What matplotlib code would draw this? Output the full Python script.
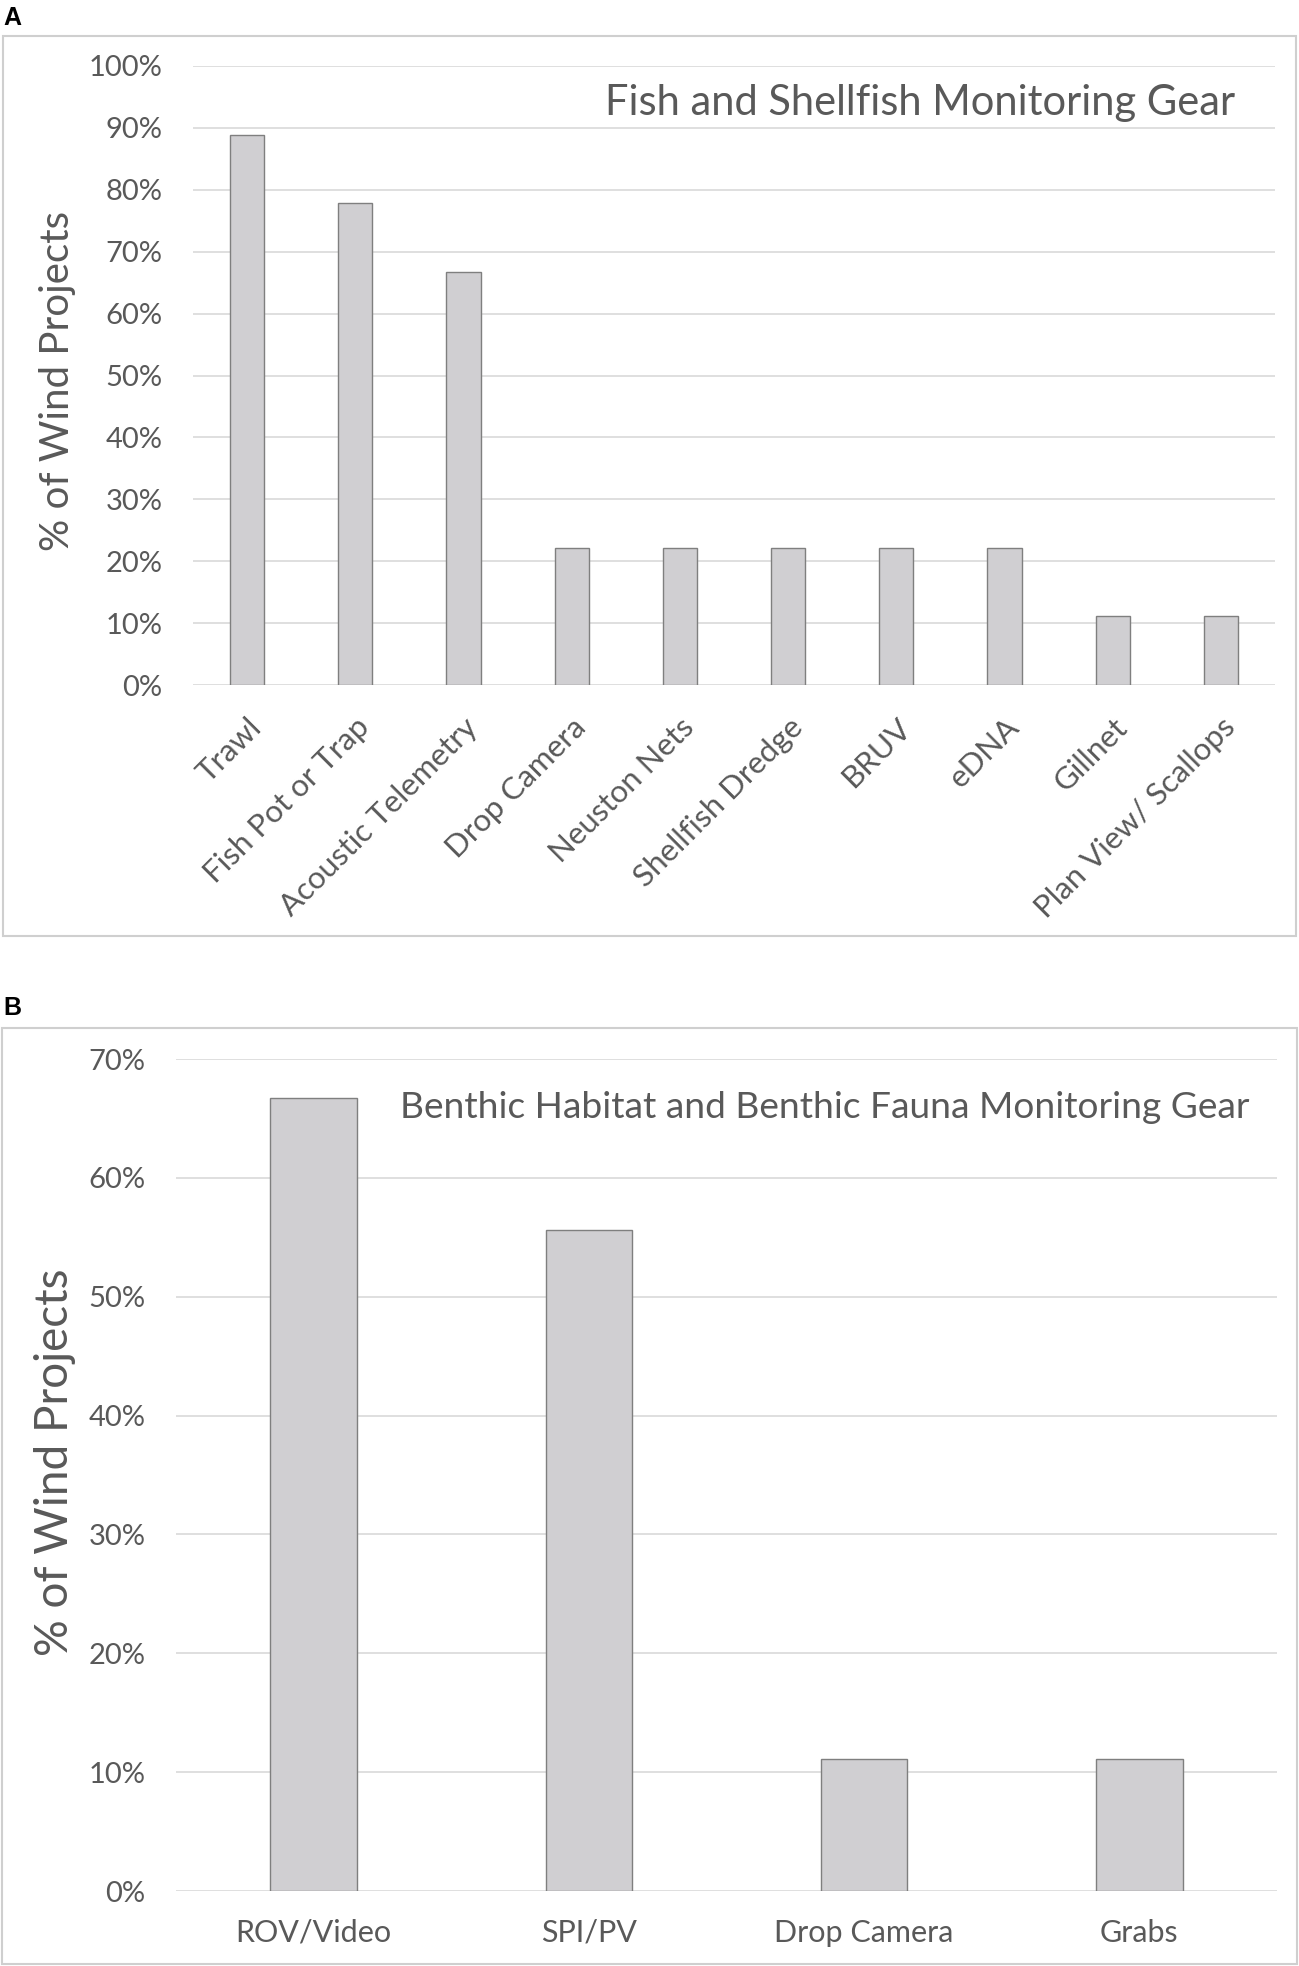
import matplotlib.pyplot as plt
from matplotlib.patches import Rectangle
from matplotlib.ticker import PercentFormatter

# Data (share of 9 wind projects)
gear_a = ['Trawl', 'Fish Pot or Trap', 'Acoustic Telemetry', 'Drop Camera', 'Neuston Nets',
          'Shellfish Dredge', 'BRUV', 'eDNA', 'Gillnet', 'Plan View/ Scallops']
pct_a = [88.9, 77.8, 66.7, 22.2, 22.2, 22.2, 22.2, 22.2, 11.1, 11.1]
title_a = 'Fish and Shellfish Monitoring Gear'

gear_b = ['ROV/Video', 'SPI/PV', 'Drop Camera', 'Grabs']
pct_b = [66.7, 55.6, 11.1, 11.1]
title_b = 'Benthic Habitat and Benthic Fauna Monitoring Gear'

ylabel = '% of Wind Projects'

plt.rcParams['font.family'] = ['Lato', 'DejaVu Sans']
TXT = '#595959'
GRID = '#d9d9d9'
BAR = '#d0cfd2'
EDGE = '#7f7f7f'

W, H = 1299, 1966
fig = plt.figure(figsize=(W / 100, H / 100), dpi=100)


def fx(px):
    return px / W


def fy(py):
    return 1 - py / H


# panel frames
fig.patches.append(Rectangle((fx(3), fy(936)), fx(1293), 900 / H, transform=fig.transFigure,
                             fill=False, edgecolor='#cfcfcf', linewidth=1.5))
fig.patches.append(Rectangle((fx(2), fy(1964)), fx(1295), 936 / H, transform=fig.transFigure,
                             fill=False, edgecolor='#cfcfcf', linewidth=1.5))
fig.text(fx(3), fy(6), 'A', fontsize=18, fontweight='bold', va='top', ha='left',
         family=['Liberation Sans', 'DejaVu Sans'])
fig.text(fx(3), fy(996), 'B', fontsize=18, fontweight='bold', va='top', ha='left',
         family=['Liberation Sans', 'DejaVu Sans'])


def style(ax, top, step):
    ax.set_ylim(0, top)
    ax.set_yticks([i * step for i in range(int(round(top / step)) + 1)])
    ax.yaxis.set_major_formatter(PercentFormatter(decimals=0))
    ax.grid(axis='y', color=GRID, linewidth=1.2)
    ax.set_axisbelow(True)
    for s in ax.spines.values():
        s.set_visible(False)
    ax.tick_params(axis='y', length=0, pad=22, labelsize=21, labelcolor=TXT)
    ax.tick_params(axis='x', length=0, labelcolor=TXT)


# Panel A
ax1 = fig.add_axes([fx(193), fy(685), fx(1275 - 193), 619 / H])
x1 = range(len(gear_a))
ax1.bar(x1, pct_a, width=0.315, color=BAR, edgecolor=EDGE, linewidth=1.0)
ax1.set_xlim(-0.5, len(gear_a) - 0.5)
style(ax1, 100, 10)
ax1.set_xticks(list(x1))
ax1.set_xticklabels(gear_a, rotation=45, ha='right', va='top', rotation_mode='anchor', fontsize=22.5)
ax1.tick_params(axis='x', pad=20)
ax1.text(0.963, 0.921, title_a, transform=ax1.transAxes, ha='right', va='baseline',
         fontsize=30, color=TXT)
fig.text(fx(58), fy(381), ylabel, rotation=90, ha='center', va='center', fontsize=29, color=TXT)

# Panel B
ax2 = fig.add_axes([fx(176), fy(1891), fx(1277 - 176), 832 / H])
x2 = range(len(gear_b))
ax2.bar(x2, pct_b, width=0.315, color=BAR, edgecolor=EDGE, linewidth=1.0)
ax2.set_xlim(-0.5, len(gear_b) - 0.5)
style(ax2, 70, 10)
ax2.set_xticks(list(x2))
ax2.set_xticklabels(gear_b, fontsize=22)
ax2.tick_params(axis='x', pad=20)
ax2.text(0.975, 0.929 * 70, title_b, transform=ax2.get_yaxis_transform(), ha='right',
         va='baseline', fontsize=26.7, color=TXT)
fig.text(fx(55), fy(1462), ylabel, rotation=90, ha='center', va='center', fontsize=33, color=TXT)

fig.savefig('out.png', dpi=100)
